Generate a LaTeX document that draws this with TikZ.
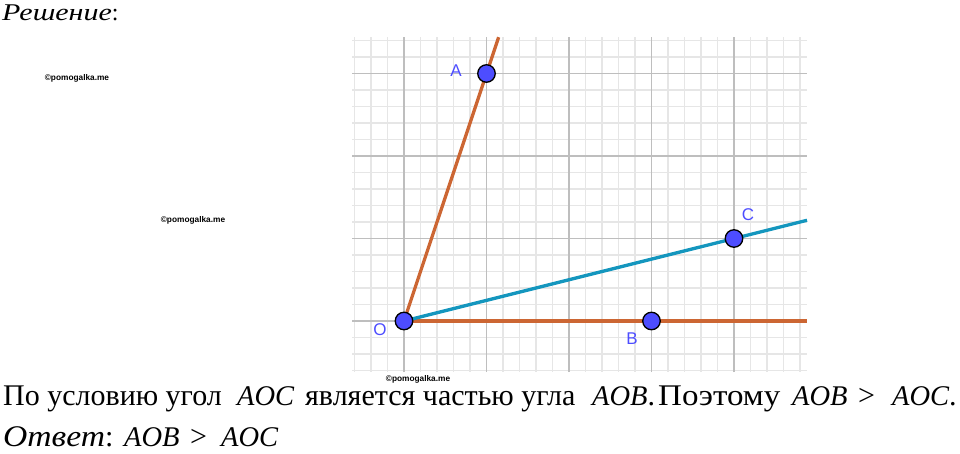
\documentclass[tikz,border=0pt]{standalone}
\usepackage{fontspec}
\setmainfont{Liberation Serif}
\newfontfamily\lsans{Liberation Sans}
\definecolor{gridmajor}{RGB}{190,190,190}
\definecolor{gridminor}{RGB}{230,230,230}
\definecolor{rayorange}{RGB}{204,102,51}
\definecolor{raycyan}{RGB}{20,150,190}
\definecolor{ptblue}{RGB}{77,77,255}
\tikzset{
  minorline/.style={gridminor, line width=1.1pt},
  majorline/.style={gridmajor, line width=1.5pt},
  orangeray/.style={rayorange, line width=3.3pt},
  cyanray/.style={raycyan, line width=3.3pt},
  ptdot/.style={circle, fill=ptblue, draw=black, line width=1.3pt, minimum size=17.5pt, inner sep=0pt},
  ptlabel/.style={text=ptblue, font=\lsans\fontsize{17}{17}\selectfont, inner sep=0pt},
  wmark/.style={font=\lsans\bfseries\fontsize{8.3}{9}\selectfont, inner sep=0pt},
  body/.style={font=\fontsize{30}{34}\selectfont, inner sep=0pt, anchor=base west}
}
\newcommand{\mi}[1]{{\fontsize{28.5}{28}\selectfont\itshape #1}}
\begin{document}
\begin{tikzpicture}[x=82.5pt,y=82.5pt]
\useasboundingbox (-404pt,-133pt) rectangle (556pt,321pt);
% grid
\foreach \i in {-3,...,24} \draw[minorline] ({\i*0.2},-0.62) -- ({\i*0.2},3.44);
\foreach \j in {-3,...,17} \draw[minorline] (-0.63,{\j*0.2}) -- (4.885,{\j*0.2});
\foreach \i in {0,...,4} \draw[majorline] (\i,-0.62) -- (\i,3.44);
\foreach \j in {0,...,3} \draw[majorline] (-0.63,\j) -- (4.885,\j);
% points
\coordinate (O) at (0,0);
\coordinate (A) at (1,3);
\coordinate (B) at (3,0);
\coordinate (C) at (4,1);
\coordinate (Aend) at (1.147,3.44);
\coordinate (Bend) at (4.885,0);
\coordinate (Cend) at (4.885,1.221);
\draw[orangeray] (O) -- (Aend);
\draw[orangeray] (O) -- (Bend);
\draw[cyanray] (O) -- (Cend);
\node[ptdot] (pO) at (O) {};
\node[ptdot] (pA) at (A) {};
\node[ptdot] (pB) at (B) {};
\node[ptdot] (pC) at (C) {};
\node[ptlabel] (lA) at (52pt,250pt) {A};
\node[ptlabel] (lC) at (344pt,106pt) {C};
\node[ptlabel] (lO) at (-24pt,-9pt) {O};
\node[ptlabel] (lB) at (228pt,-18pt) {B};
% watermarks
\node[wmark] (w1) at (-327pt,243pt) {©pomogalka.me};
\node[wmark] (w2) at (-211pt,101pt) {©pomogalka.me};
\node[wmark] (w3) at (14pt,-58pt) {©pomogalka.me};
% texts
\node[body, font=\fontsize{24}{28}\selectfont] (title) at (-402pt,300pt) {\scalebox{1.25}[1]{\itshape Решение}:};
\node[body] (sent) at (-401pt,-85pt) {\makebox[234pt][l]{По условию угол}\makebox[68pt][l]{\mi{AOC}}\makebox[287pt][l]{является частью угла}\makebox[66pt][l]{\mi{AOB}.}\makebox[134pt][l]{\scalebox{1.1}[1]{Поэтому}}\makebox[66pt][l]{\mi{AOB}}\makebox[34pt][l]{>}\mi{AOC}.};
\node[body] (ans) at (-401pt,-126pt) {\makebox[121pt][l]{\scalebox{1.12}[1]{\itshape Ответ}:}\makebox[66pt][l]{\mi{AOB}}\makebox[31pt][l]{>}\mi{AOC}};
\end{tikzpicture}
\end{document}
